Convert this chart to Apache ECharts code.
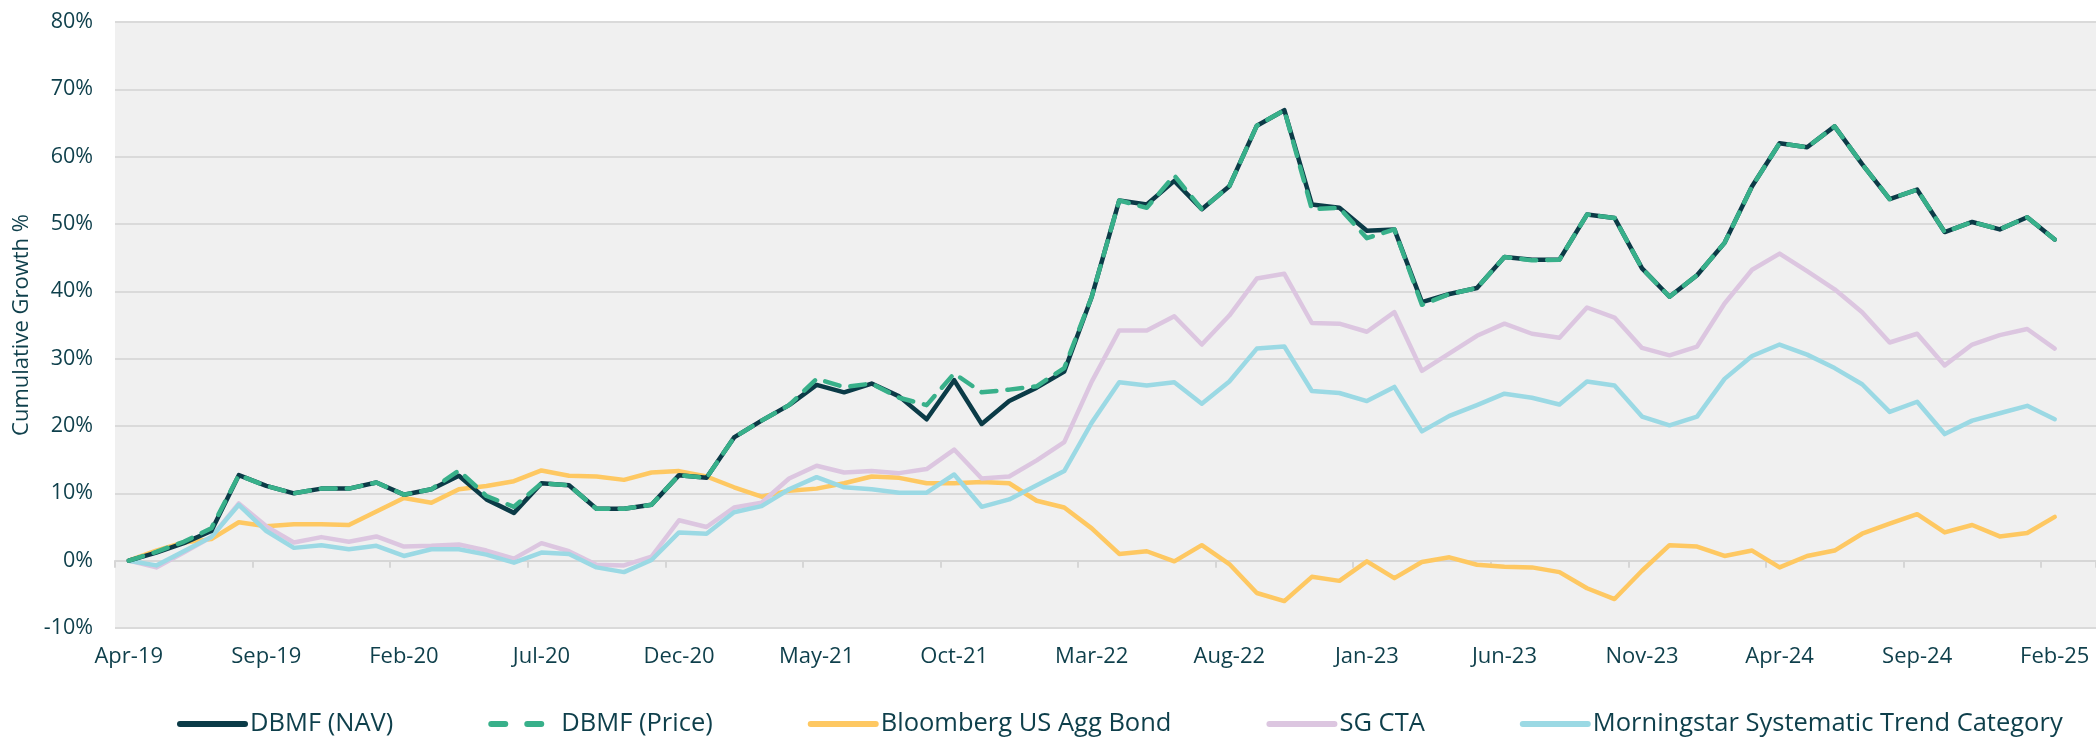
<!DOCTYPE html>
<html>
<head>
<meta charset="utf-8">
<script src="https://cdn.jsdelivr.net/npm/echarts@6/dist/echarts.min.js"></script>
<style>
  html, body { margin: 0; padding: 0; background: #fff; }
  #chart { width: 2096px; height: 743px; }
</style>
</head>
<body>
<div id="chart"></div>
<script>
// monthly points, Apr-19 .. Feb-25 (labels shown every 5th month)
const months = [
  "Apr-19","May-19","Jun-19","Jul-19","Aug-19","Sep-19","Oct-19","Nov-19","Dec-19",
  "Jan-20","Feb-20","Mar-20","Apr-20","May-20","Jun-20","Jul-20","Aug-20","Sep-20","Oct-20","Nov-20","Dec-20",
  "Jan-21","Feb-21","Mar-21","Apr-21","May-21","Jun-21","Jul-21","Aug-21","Sep-21","Oct-21","Nov-21","Dec-21",
  "Jan-22","Feb-22","Mar-22","Apr-22","May-22","Jun-22","Jul-22","Aug-22","Sep-22","Oct-22","Nov-22","Dec-22",
  "Jan-23","Feb-23","Mar-23","Apr-23","May-23","Jun-23","Jul-23","Aug-23","Sep-23","Oct-23","Nov-23","Dec-23",
  "Jan-24","Feb-24","Mar-24","Apr-24","May-24","Jun-24","Jul-24","Aug-24","Sep-24","Oct-24","Nov-24","Dec-24",
  "Jan-25","Feb-25"
];

const dbmfNav = [
  0, 1.2, 2.6, 4.4, 12.7, 11.1, 10.0, 10.7, 10.7, 11.6, 9.8, 10.6, 12.6, 9.1, 7.1, 11.5, 11.2, 7.7, 7.7, 8.3, 12.7,
  12.3, 18.3, 20.8, 23.1, 26.1, 25.0, 26.3, 24.4, 21.0, 26.8, 20.3, 23.7,
  25.7, 28.1, 39.2, 53.5, 52.9, 56.4, 52.2, 55.6, 64.6, 66.9, 52.9, 52.4,
  49.0, 49.2, 38.4, 39.6, 40.5, 45.1, 44.7, 44.7, 51.4, 50.9, 43.4, 39.2,
  42.4, 47.2, 55.6, 62.0, 61.4, 64.5, 58.9, 53.7, 55.1, 48.8, 50.3, 49.2,
  51.0, 47.7
];

const dbmfPrice = [
  0, 1.3, 2.8, 4.8, 12.7, 11.1, 10.0, 10.7, 10.7, 11.6, 9.8, 10.6, 13.4, 9.6, 8.0, 11.5, 11.2, 7.7, 7.7, 8.3, 12.7,
  12.3, 18.3, 20.8, 23.1, 27.0, 25.8, 26.3, 24.2, 23.1, 27.8, 25.0, 25.4,
  25.9, 28.6, 39.2, 53.5, 52.4, 57.2, 52.2, 55.6, 64.6, 66.9, 52.2, 52.4,
  47.9, 49.2, 38.0, 39.6, 40.5, 45.1, 44.6, 44.7, 51.4, 50.9, 43.4, 39.2,
  42.4, 47.2, 55.6, 62.0, 61.4, 64.5, 58.9, 53.7, 55.1, 48.8, 50.3, 49.2,
  51.0, 47.7
];

const aggBond = [
  0, 1.5, 2.7, 3.2, 5.7, 5.1, 5.4, 5.4, 5.3, 7.3, 9.3, 8.6, 10.6, 11.1, 11.8, 13.4, 12.6, 12.5, 12.0, 13.1, 13.3,
  12.5, 10.9, 9.5, 10.4, 10.7, 11.5, 12.5, 12.3, 11.5, 11.5, 11.7, 11.5,
  8.9, 7.9, 4.8, 1.0, 1.4, -0.1, 2.3, -0.5, -4.8, -6.0, -2.4, -3.0,
  -0.1, -2.6, -0.2, 0.5, -0.6, -0.9, -1.0, -1.7, -4.1, -5.7, -1.5, 2.3,
  2.1, 0.7, 1.5, -1.0, 0.7, 1.5, 4.0, 5.5, 6.9, 4.2, 5.3, 3.6,
  4.1, 6.5
];

const sgCta = [
  0, -1.0, 1.2, 3.5, 8.5, 5.1, 2.7, 3.5, 2.8, 3.6, 2.1, 2.2, 2.4, 1.5, 0.3, 2.6, 1.4, -0.6, -0.7, 0.6, 6.0,
  5.0, 7.9, 8.6, 12.2, 14.1, 13.1, 13.3, 13.0, 13.6, 16.5, 12.2, 12.5,
  14.9, 17.6, 26.6, 34.2, 34.2, 36.3, 32.1, 36.4, 41.9, 42.6, 35.3, 35.2,
  34.0, 36.9, 28.2, 30.8, 33.4, 35.2, 33.7, 33.1, 37.6, 36.1, 31.6, 30.5,
  31.8, 38.2, 43.2, 45.6, 43.0, 40.3, 36.9, 32.4, 33.7, 29.0, 32.1, 33.5,
  34.4, 31.5
];

const msTrend = [
  0, -0.7, 1.4, 3.5, 8.3, 4.4, 1.9, 2.3, 1.7, 2.2, 0.7, 1.7, 1.7, 0.9, -0.3, 1.2, 1.0, -1.0, -1.7, 0.1, 4.2,
  4.0, 7.2, 8.1, 10.6, 12.4, 10.9, 10.6, 10.1, 10.1, 12.8, 8.0, 9.1,
  11.2, 13.3, 20.5, 26.5, 26.0, 26.5, 23.3, 26.6, 31.5, 31.8, 25.2, 24.9,
  23.7, 25.8, 19.2, 21.5, 23.1, 24.8, 24.2, 23.2, 26.6, 26.0, 21.4, 20.1,
  21.4, 27.0, 30.4, 32.1, 30.6, 28.6, 26.2, 22.1, 23.6, 18.8, 20.8, 21.9,
  23.0, 21.0
];

const seriesNames = [
  "DBMF (NAV)", "DBMF (Price)", "Bloomberg US Agg Bond", "SG CTA", "Morningstar Systematic Trend Category"
];

const textColor = "#0e3f4b";
const fontFamily = "'Open Sans', 'Noto Sans', sans-serif";

const chart = echarts.init(document.getElementById("chart"));

function lineSeries(name, data, color, extra) {
  return Object.assign({
    name: name,
    type: "line",
    data: data,
    symbol: "none",
    smooth: false,
    xAxisIndex: 0,
    lineStyle: { color: color, width: 4.5, cap: "round", join: "round" },
    itemStyle: { color: color }
  }, extra || {});
}

const option = {
  animation: false,
  backgroundColor: "#ffffff",
  textStyle: { fontFamily: fontFamily, color: textColor },
  grid: {
    left: 115,
    right: 0,
    top: 22,
    bottom: 115,
    show: true,
    backgroundColor: "#f0f0f0",
    borderWidth: 0
  },
  legend: {
    left: 177,
    top: 711,
    padding: 0,
    itemWidth: 65,
    itemHeight: 14,
    itemGap: 95,
    textStyle: { fontFamily: fontFamily, color: textColor, fontSize: 25.5 },
    itemStyle: { opacity: 0 },
    lineStyle: { width: 6, cap: "round" },
    data: [
      { name: seriesNames[0] },
      { name: seriesNames[1], lineStyle: { type: [14, 22], width: 6, cap: "round" } },
      { name: seriesNames[2] },
      { name: seriesNames[3] },
      { name: seriesNames[4] }
    ]
  },
  xAxis: [
    {
      type: "category",
      data: months,
      max: 71,
      boundaryGap: true,
      axisLine: { show: false, onZero: false },
      axisTick: { show: false },
      splitLine: { show: false },
      axisLabel: {
        interval: 4,
        margin: 18,
        fontSize: 22,
        color: textColor,
        fontFamily: fontFamily
      }
    },
    {
      type: "category",
      data: months,
      max: 71,
      position: "top",
      boundaryGap: true,
      axisLine: { show: true, onZero: true, lineStyle: { color: "#d6d6d6", width: 2 } },
      axisTick: { show: true, inside: true, interval: 4, length: 7, lineStyle: { color: "#d6d6d6", width: 2 } },
      axisLabel: { show: false },
      splitLine: { show: false }
    }
  ],
  yAxis: {
    type: "value",
    min: -10,
    max: 80,
    interval: 10,
    name: "Cumulative Growth %",
    nameLocation: "middle",
    nameGap: 80,
    nameRotate: 90,
    nameTextStyle: { fontSize: 22, color: textColor, fontFamily: fontFamily },
    axisLine: { show: false },
    axisTick: { show: false },
    axisLabel: {
      margin: 22,
      fontSize: 21.5,
      color: textColor,
      fontFamily: fontFamily,
      formatter: "{value}%"
    },
    splitLine: { lineStyle: { color: "#dadada", width: 2 } }
  },
  series: [
    lineSeries(seriesNames[0], dbmfNav, "#0b3b47", { z: 3 }),
    lineSeries(seriesNames[1], dbmfPrice, "#38b08a", {
      z: 4,
      lineStyle: { color: "#38b08a", width: 4.5, type: [15, 11], cap: "round", join: "round" }
    }),
    lineSeries(seriesNames[2], aggBond, "#fec862", { z: 2 }),
    lineSeries(seriesNames[3], sgCta, "#dcc6e0", { z: 2 }),
    lineSeries(seriesNames[4], msTrend, "#9bd9e4", { z: 2 })
  ]
};

chart.setOption(option);
</script>
</body>
</html>
